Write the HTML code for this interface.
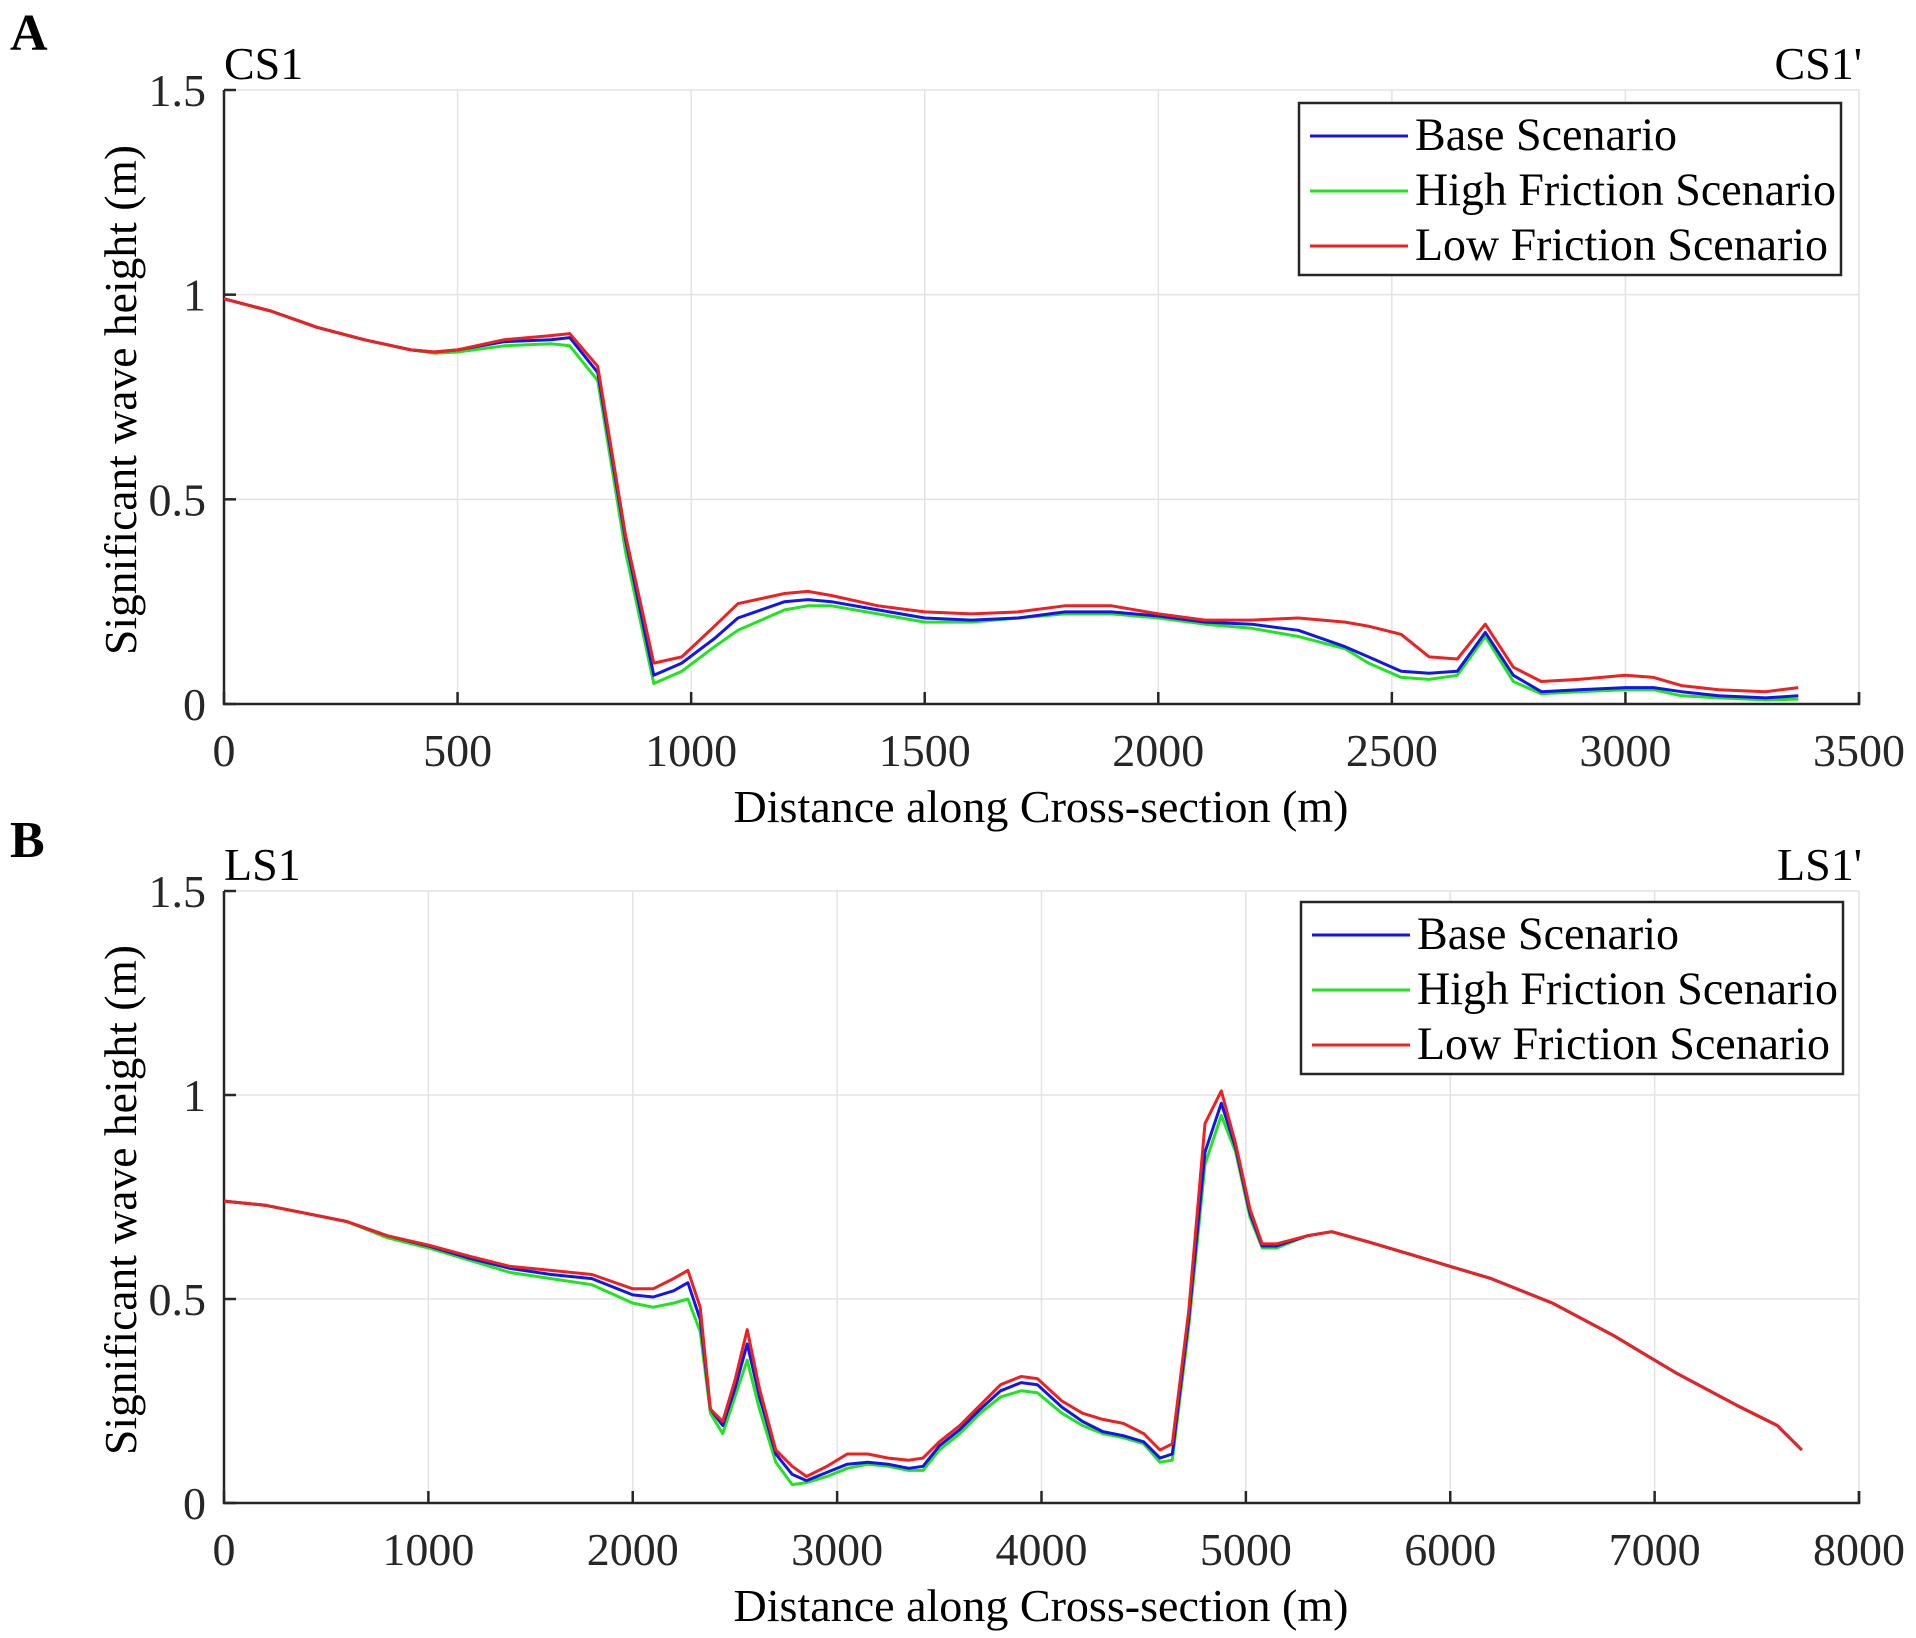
<!DOCTYPE html>
<html><head><meta charset="utf-8"><style>
html,body{margin:0;padding:0;background:#fff;}
svg{display:block;font-family:"Liberation Serif",serif;}
</style></head><body>
<svg id="fig" width="1916" height="1638" viewBox="0 0 1916 1638" xmlns="http://www.w3.org/2000/svg"></svg>
<script>
// ---------- Panel A data ----------
const aX = [0,100,200,300,400,450,500,600,700,740,800,860,920,980,1050,1100,1200,1250,1300,1400,1500,1600,1700,1800,1900,2000,2100,2200,2300,2400,2450,2520,2580,2640,2700,2760,2820,2900,3000,3060,3120,3200,3300,3370];
const aBase = [0.99,0.96,0.92,0.89,0.865,0.86,0.865,0.885,0.89,0.895,0.81,0.4,0.07,0.1,0.16,0.21,0.25,0.255,0.25,0.23,0.21,0.205,0.21,0.225,0.225,0.215,0.2,0.195,0.18,0.14,0.115,0.08,0.075,0.08,0.175,0.07,0.03,0.035,0.04,0.04,0.03,0.02,0.015,0.02];
const aHigh = [0.99,0.96,0.92,0.89,0.865,0.857,0.86,0.875,0.88,0.875,0.79,0.37,0.05,0.08,0.14,0.18,0.23,0.24,0.24,0.22,0.2,0.2,0.21,0.22,0.22,0.21,0.195,0.185,0.165,0.135,0.1,0.065,0.06,0.07,0.165,0.055,0.025,0.03,0.035,0.035,0.02,0.015,0.01,0.012];
const aLow = [0.99,0.96,0.92,0.89,0.865,0.86,0.865,0.89,0.9,0.905,0.825,0.41,0.1,0.115,0.19,0.245,0.27,0.275,0.265,0.24,0.225,0.22,0.225,0.24,0.24,0.22,0.205,0.205,0.21,0.2,0.19,0.17,0.115,0.11,0.195,0.09,0.055,0.06,0.07,0.065,0.045,0.035,0.03,0.04];
const aXTicks = [0,500,1000,1500,2000,2500,3000,3500];
const aXTickLabels = ["0","500","1000","1500","2000","2500","3000","3500"];
// ---------- Panel B data ----------
const bX = [0,200,400,600,800,1000,1200,1400,1600,1800,2000,2100,2200,2270,2330,2380,2440,2500,2560,2620,2700,2780,2850,2950,3050,3150,3250,3350,3420,3500,3600,3700,3800,3900,3980,4100,4200,4300,4400,4500,4580,4640,4720,4800,4880,4950,5020,5080,5150,5300,5420,5600,5800,6000,6200,6500,6800,7100,7400,7600,7720];
const bBase = [0.74,0.73,0.71,0.69,0.655,0.63,0.6,0.575,0.56,0.55,0.51,0.505,0.52,0.54,0.45,0.23,0.19,0.28,0.39,0.26,0.12,0.07,0.055,0.075,0.095,0.1,0.095,0.085,0.09,0.14,0.18,0.23,0.275,0.295,0.29,0.235,0.2,0.175,0.165,0.15,0.11,0.12,0.45,0.86,0.98,0.87,0.71,0.63,0.63,0.655,0.665,0.64,0.61,0.58,0.55,0.49,0.41,0.32,0.24,0.19,0.13];
const bHigh = [0.74,0.73,0.71,0.69,0.65,0.625,0.595,0.565,0.55,0.535,0.49,0.48,0.49,0.5,0.42,0.22,0.17,0.26,0.35,0.23,0.1,0.045,0.05,0.065,0.085,0.095,0.09,0.08,0.08,0.13,0.17,0.22,0.26,0.275,0.27,0.22,0.19,0.17,0.16,0.145,0.1,0.105,0.43,0.83,0.95,0.86,0.7,0.625,0.625,0.655,0.665,0.64,0.61,0.58,0.55,0.49,0.41,0.32,0.24,0.19,0.13];
const bLow = [0.74,0.73,0.71,0.69,0.655,0.632,0.605,0.58,0.57,0.56,0.525,0.525,0.55,0.57,0.48,0.23,0.2,0.3,0.425,0.28,0.13,0.09,0.065,0.09,0.12,0.12,0.11,0.105,0.11,0.15,0.19,0.24,0.29,0.31,0.305,0.25,0.22,0.205,0.195,0.17,0.13,0.145,0.47,0.93,1.01,0.88,0.72,0.635,0.635,0.655,0.665,0.64,0.61,0.58,0.55,0.49,0.41,0.32,0.24,0.19,0.13];
const bXTicks = [0,1000,2000,3000,4000,5000,6000,7000,8000];
const bXTickLabels = ["0","1000","2000","3000","4000","5000","6000","7000","8000"];
const yTicks = [0,0.5,1,1.5];
const yTickLabels = ["0","0.5","1","1.5"];
const seriesNames = ["Base Scenario","High Friction Scenario","Low Friction Scenario"];

const NS = "http://www.w3.org/2000/svg";
const svg = document.getElementById('fig');
function mk(tag, attrs, parent, text){
  const e = document.createElementNS(NS, tag);
  for (const k in attrs) e.setAttribute(k, attrs[k]);
  if (text !== undefined) e.textContent = text;
  (parent||svg).appendChild(e);
  return e;
}

function panel(cfg){
  const g = mk('g', {});
  
  
  const L=224, R=1859, T=cfg.top, B=cfg.bottom;
  const sx = v => L + (v - 0) / cfg.xmax * (R - L);
  const sy = v => B - v / 1.5 * (B - T);
  const grid = mk('g', {stroke:'#e3e3e3','stroke-width':1.5}, g);
  
  
  cfg.xticks.forEach(t => { if (t>0) mk('line',{x1:sx(t),x2:sx(t),y1:T,y2:B},grid); });
  yTicks.forEach(t => { if (t>0) mk('line',{x1:L,x2:R,y1:sy(t),y2:sy(t)},grid); });
  const ax = mk('path',{d:`M${L},${T} L${L},${B} L${R},${B} L${R},${B-12}`,fill:'none',stroke:'#262626','stroke-width':2.5},g);
  
  
  cfg.xticks.forEach(t => { mk('line',{x1:sx(t),x2:sx(t),y1:B,y2:B-12,stroke:'#262626','stroke-width':2.5},g); });
  yTicks.forEach(t => { mk('line',{x1:L,x2:L+12,y1:sy(t),y2:sy(t),stroke:'#262626','stroke-width':2.5},g); });
  cfg.xticks.forEach((t,i) => {
    const tx = mk('text',{x:sx(t),y:B+62,'text-anchor':'middle','font-size':46,fill:'#262626'},g,cfg.xlabels[i]);
    
    
  });
  yTicks.forEach((t,i) => {
    const ty = mk('text',{x:206,y:sy(t)+16,'text-anchor':'end','font-size':46,fill:'#262626'},g,yTickLabels[i]);
    
    
  });
  const xt = mk('text',{x:1041,y:B+118,'text-anchor':'middle','font-size':46,fill:'#000',textLength:615,lengthAdjust:'spacingAndGlyphs'},g,'Distance along Cross-section (m)');
  
  
  const cy = (T+B)/2 + 3;
  const yt = mk('text',{x:0,y:0,'text-anchor':'middle','font-size':46,fill:'#000',textLength:510,lengthAdjust:'spacingAndGlyphs',transform:`translate(136,${cy}) rotate(-90)`},g,'Significant wave height (m)');
  
  
  const s1 = mk('text',{x:224,y:T-11,'font-size':46,fill:'#000'},g,cfg.start);
  
  
  const s2 = mk('text',{x:1862,y:T-11,'text-anchor':'end','font-size':46,fill:'#000'},g,cfg.end);
  
  
  const pl = mk('text',{x:10,y:cfg.letterY,'font-size':52,'font-weight':'bold',fill:'#000'},g,cfg.letter);
  
  
  const series = [[cfg.high,'#1ee61e','high-friction-line'],[cfg.base,'#1515e8','base-line'],[cfg.low,'#ee2020','low-friction-line']];
  series.forEach(s => {
    const d = cfg.x.map((xv,i) => (i?'L':'M') + sx(xv).toFixed(1) + ',' + sy(s[0][i]).toFixed(1)).join(' ');
    const p = mk('path',{d:d,fill:'none',stroke:s[1],'stroke-width':3,'stroke-linejoin':'round'},g);
    
    
  });
  const lg = mk('g',{},g);
  
  
  const lx = cfg.legX, ly = cfg.legY;
  mk('rect',{x:lx,y:ly,width:542,height:172,fill:'#fff',stroke:'#262626','stroke-width':2.5},lg);
  const cols = ['#1515e8','#1ee61e','#ee2020'];
  const widths = [262,421,413];
  seriesNames.forEach((n,i) => {
    const by = ly + 47 + i*55;
    const ent = mk('g',{},lg);
    
    
    mk('line',{x1:lx+11,x2:lx+109,y1:by-14,y2:by-14,stroke:cols[i],'stroke-width':3},ent);
    mk('text',{x:lx+116,y:by,'font-size':47,fill:'#000',textLength:widths[i],lengthAdjust:'spacingAndGlyphs'},ent,n);
  });
}

panel({name:'panel-a',top:90,bottom:704,xmax:3500,xticks:aXTicks,xlabels:aXTickLabels,x:aX,base:aBase,high:aHigh,low:aLow,start:'CS1',end:"CS1'",letter:'A',letterY:50,legX:1299,legY:103});
panel({name:'panel-b',top:891,bottom:1503,xmax:8000,xticks:bXTicks,xlabels:bXTickLabels,x:bX,base:bBase,high:bHigh,low:bLow,start:'LS1',end:"LS1'",letter:'B',letterY:857,legX:1301,legY:902});
</script>
</body></html>
